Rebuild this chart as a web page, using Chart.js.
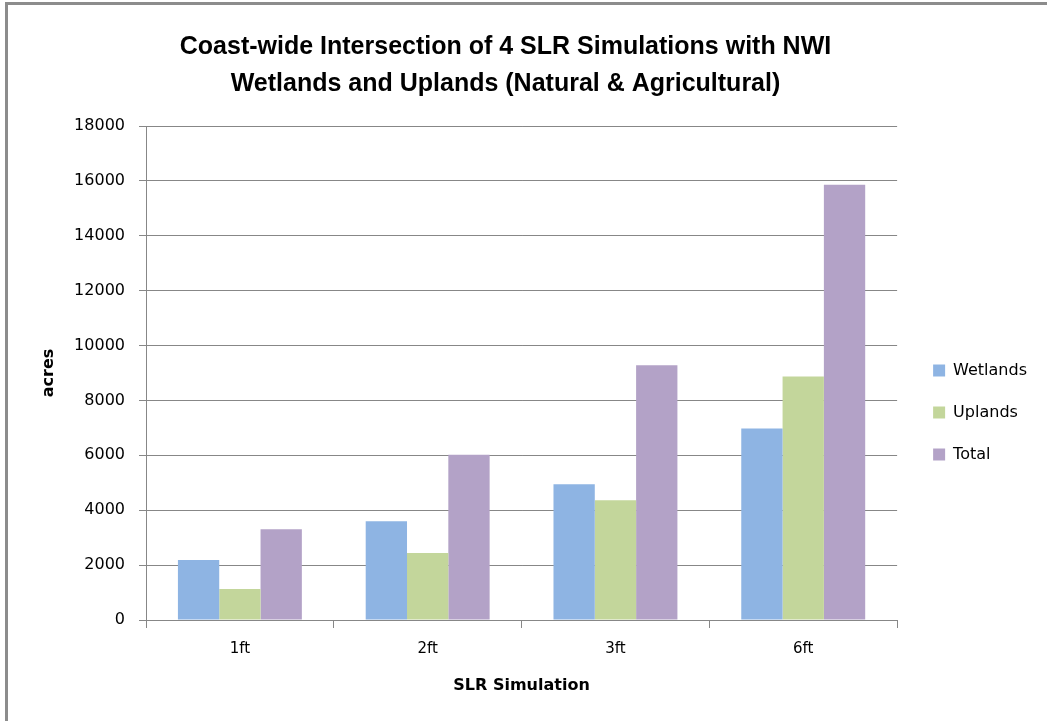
<!DOCTYPE html>
<html>
<head>
<meta charset="utf-8">
<script src="https://cdn.jsdelivr.net/npm/chart.js@4"></script>
<style>
  html, body { margin: 0; padding: 0; background: #fff; }
  #wrap { position: relative; width: 1047px; height: 721px; overflow: hidden; }
  #frame { position: absolute; left: 5px; top: 2px; right: -10px; bottom: -10px;
           border-left: 3px solid #8c8c8c; border-top: 3px solid #8c8c8c; pointer-events: none; }
  canvas { position: absolute; left: 0; top: 0; }
</style>
</head>
<body>
<div id="wrap">
  <canvas id="c" width="1047" height="721"></canvas>
  <div id="frame"></div>
</div>
<script>
// Acreage intersected by each sea-level-rise scenario
const categories = ['1ft', '2ft', '3ft', '6ft'];
const wetlands = [2190, 3600, 4950, 6980];
const uplands  = [1130, 2440, 4360, 8870];
const total    = [3310, 6020, 9280, 15860];
const seriesNames = ['Wetlands', 'Uplands', 'Total'];
const seriesColors = ['#8EB4E3', '#C3D69B', '#B3A2C7'];
const yTicks = { min: 0, max: 18000, step: 2000 };

const titleLines = [
  'Coast-wide Intersection of 4 SLR Simulations with NWI',
  'Wetlands and Uplands (Natural & Agricultural)'
];

const gridColor = '#878787';
const bodyFont = 'DejaVu Sans';
const titleFont = '"Liberation Sans", sans-serif';

// Nudge the title and legend boxes after the layout pass
const boxNudge = {
  id: 'boxNudge',
  afterLayout(chart) {
    const t = chart.titleBlock;
    if (t) { t.left -= 12; t.right -= 12; }
    const l = chart.legend;
    if (l) { l.left += 10; l.right += 10; l.top += 52; l.bottom += 52; }
  }
};

new Chart(document.getElementById('c'), {
  type: 'bar',
  data: {
    labels: categories,
    datasets: [wetlands, uplands, total].map((vals, i) => ({
      label: seriesNames[i],
      data: vals,
      backgroundColor: seriesColors[i],
      borderWidth: 0,
      categoryPercentage: 0.66,
      barPercentage: 1.0
    }))
  },
  plugins: [boxNudge],
  options: {
    responsive: false,
    devicePixelRatio: 1,
    animation: false,
    layout: { padding: { left: 8, top: 0, right: 20, bottom: 0 } },
    plugins: {
      title: {
        display: true,
        text: titleLines,
        color: '#000',
        font: { family: titleFont, size: 25, weight: 'bold', lineHeight: 1.48 },
        padding: { top: 29, bottom: 23 }
      },
      legend: {
        position: 'right',
        labels: {
          boxWidth: 12,
          boxHeight: 12,
          padding: 26,
          color: '#000',
          font: { family: bodyFont, size: 16 }
        }
      },
      tooltip: { enabled: false }
    },
    scales: {
      x: {
        grid: {
          offset: true,
          drawOnChartArea: false,
          drawTicks: true,
          tickLength: 8,
          color: gridColor
        },
        border: { color: gridColor },
        ticks: { color: '#000', padding: 12, font: { family: bodyFont, size: 15 } },
        title: {
          display: true,
          text: 'SLR Simulation',
          color: '#000',
          font: { family: bodyFont, size: 16, weight: 'bold' },
          padding: { top: 0, bottom: 26 }
        },
        afterFit: s => { s.height = 101; }
      },
      y: {
        min: yTicks.min,
        max: yTicks.max,
        grid: { color: gridColor, tickLength: 7 },
        border: { color: gridColor },
        ticks: {
          stepSize: yTicks.step,
          color: '#000',
          padding: 14,
          font: { family: bodyFont, size: 16 },
          callback: v => String(v)
        },
        title: {
          display: true,
          text: 'acres',
          color: '#000',
          font: { family: bodyFont, size: 16, weight: 'bold' },
          padding: { top: 31, bottom: 0 }
        },
        afterFit: s => { s.width = 138; }
      }
    }
  }
});
</script>
</body>
</html>
